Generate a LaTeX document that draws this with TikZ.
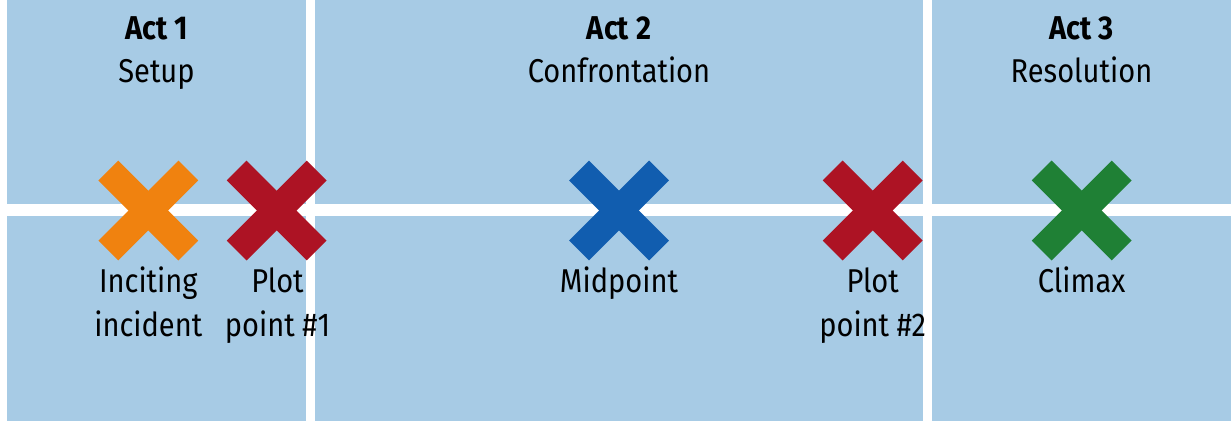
\documentclass[tikz,border=0pt]{standalone}
\usepackage{fontspec}
\setmainfont{Fira Sans}[FakeStretch=0.88]
\definecolor{panelblue}{HTML}{A7CBE5}
\definecolor{xorange}{HTML}{F0820F}
\definecolor{xred}{HTML}{AD1324}
\definecolor{xblue}{HTML}{115DAF}
\definecolor{xgreen}{HTML}{1F8035}
\tikzset{
  panel/.style={fill=panelblue, draw=none},
  crossarm/.style={line width=28pt, line cap=butt},
  lbl/.style={font=\fontsize{33}{44.5}\selectfont, align=center, anchor=base, inner sep=0pt},
  acttitle/.style={font=\fontsize{33}{40}\selectfont\bfseries, anchor=base, inner sep=0pt},
  actsub/.style={font=\fontsize{33}{40}\selectfont, anchor=base, inner sep=0pt},
}
\begin{document}
\begin{tikzpicture}[x=1pt,y=-1pt]
\useasboundingbox (0,0) rectangle (1231,421);
\fill[white] (0,0) rectangle (1231,421);
% panels
\fill[panel] (7,0) rectangle (306,204);
\fill[panel] (7,216) rectangle (306,421);
\fill[panel] (315,0) rectangle (923,204);
\fill[panel] (315,216) rectangle (923,421);
\fill[panel] (932,0) rectangle (1231,204);
\fill[panel] (932,216) rectangle (1231,421);
% act titles
\node[acttitle] (a1) at (156.5,39.5) {Act 1};
\node[actsub] (s1) at (156.5,82.5) {Setup};
\node[acttitle] (a2) at (619,39.5) {Act 2};
\node[actsub] (s2) at (619,82.5) {Confrontation};
\node[acttitle] (a3) at (1081.5,39.5) {Act 3};
\node[actsub] (s3) at (1081.5,82.5) {Resolution};
% crosses
\coordinate (cinc) at (148.3,210.5);
\coordinate (cpp1) at (276.7,210.5);
\coordinate (cmid) at (619,210.5);
\coordinate (cpp2) at (872.7,210.5);
\coordinate (ccli) at (1081.7,210.5);
\foreach \c/\col in {cinc/xorange, cpp1/xred, cmid/xblue, cpp2/xred, ccli/xgreen}{
  \draw[crossarm, \col] ([shift={(-40,-40)}]\c) -- ([shift={(40,40)}]\c);
  \draw[crossarm, \col] ([shift={(-40,40)}]\c) -- ([shift={(40,-40)}]\c);
}
% labels (base anchor = baseline of last line)
\node[lbl] (linc) at (148.3,336.7) {Inciting\\incident};
\node[lbl] (lpp1) at (277.5,336.7) {Plot\\point \#1};
\node[lbl] (lmid) at (619,292) {Midpoint};
\node[lbl] (lpp2) at (872.7,336.7) {Plot\\point \#2};
\node[lbl] (lcli) at (1081.7,292) {Climax};
\end{tikzpicture}
\end{document}
